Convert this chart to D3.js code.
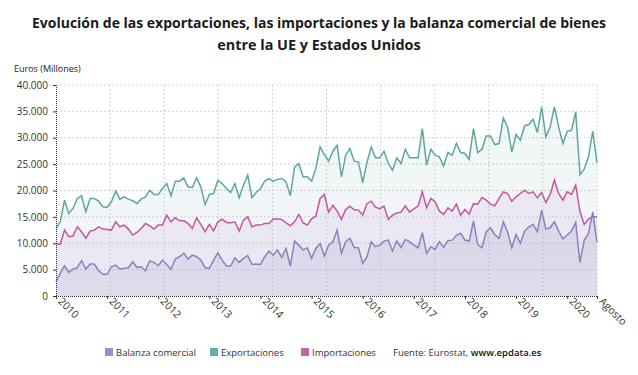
<!DOCTYPE html>
<html><head><meta charset="utf-8">
<script src="https://cdn.jsdelivr.net/npm/d3@7"></script>
<style>
body{margin:0;background:#fff;}
text{font-family:"Open Sans",sans-serif;}
</style></head><body>
<svg id="c" width="638" height="375"></svg>
<script>
const yearLabels = ["2010","2011","2012","2013","2014","2015","2016","2017","2018","2019","2020","Agosto"];
const yearTickMonths = [0,12,24,36,48,60,72,84,96,108,120,127];
const yTicks = [0,5000,10000,15000,20000,25000,30000,35000,40000];

const exportaciones = [12800,14070,18170,15650,16600,18490,19000,15960,18490,18490,17980,16910,
16780,17860,19880,18360,18800,18360,18050,17540,18360,18800,20070,19250,
19250,20380,21330,18990,21770,21770,22400,20700,20570,22400,20700,17350,
19250,19430,21960,21330,20380,19620,21330,18610,21010,22910,18680,19620,
20380,21770,22270,21770,22100,22270,21640,18990,24480,25110,22590,22590,
21770,24170,28270,26820,25560,27450,28580,22590,26690,27950,25560,25430,
21520,25300,28270,26190,26190,27450,25110,23850,26190,25110,27830,26190,
26190,26190,31740,24800,27830,26690,26380,24670,27200,26690,28900,27200,
27010,25930,31740,27200,27830,30350,30350,28710,28900,33760,32050,27320,
30600,29530,32240,32500,33510,30980,35840,30160,32050,35840,32050,28900,
31230,31420,34890,23000,24040,26380,31230,25300];

const importaciones = [9970,9780,12490,11230,11360,13120,12180,10920,12300,12490,13120,12680,
12620,12490,14070,13120,13440,12680,11550,12050,12810,13760,13310,12680,
13440,13440,15330,14070,14830,14260,14260,13760,12810,14830,13570,12180,
13570,12370,14070,14580,13950,13880,14070,12300,14390,15020,13120,13440,
13440,13760,13760,14580,14580,14500,13880,13310,14070,15460,13880,13440,
14640,15150,18490,19250,15910,17170,16090,14510,16410,17040,16350,16280,
15340,17500,17980,16850,16540,17040,14510,15330,15720,15900,17100,15900,
16540,17040,19750,16720,18490,17860,16080,15470,16700,16100,17400,15300,
16400,15520,17500,17400,18680,18170,17410,17100,18500,19750,19430,17980,
18800,19430,20070,19430,19750,18610,19620,17730,19250,21960,19430,18170,
19750,19250,21010,16000,13570,14580,15020,15020];

const balanza = [2710,4290,5740,4480,5110,5360,6690,5110,6060,6060,4800,4100,
4100,5550,5870,5110,5240,5360,6500,5430,5550,4800,6630,6370,
5740,6810,5990,5050,7000,7450,8080,7000,7760,7450,6810,5360,
5240,6810,8200,6810,5680,5680,7260,6370,7130,7640,6000,6060,
5990,7450,8520,7760,8710,7300,9020,5680,10410,9650,8710,9150,
7130,9020,9970,7570,9650,10280,12490,8080,10280,10910,9210,9150,
6180,7450,10290,9340,9650,10410,10600,8520,10470,9210,10730,10290,
9650,9150,11990,8080,9340,8830,10300,9200,10500,10590,11500,11900,
10610,10410,14240,9800,9150,12180,12940,11610,10920,14070,12180,9150,
11670,9970,12300,13120,13570,12180,16280,12680,12940,14070,12300,10790,
11550,12300,13950,6370,10600,11860,15960,10160];

const svg = d3.select("#c");
const X0 = 56, X1 = 597, Y0 = 296, Y1 = 85;
const x = d3.scaleLinear().domain([0, exportaciones.length - 1]).range([X0, X1]);
const y = d3.scaleLinear().domain([0, 40000]).range([Y0, Y1]);

// title
svg.append("text").attr("x",319).attr("y",28).attr("text-anchor","middle")
  .attr("font-size",14.4).attr("font-weight",700).attr("fill","#1a1a1a")
  .attr("textLength",574).attr("lengthAdjust","spacingAndGlyphs")
  .text("Evolución de las exportaciones, las importaciones y la balanza comercial de bienes");
svg.append("text").attr("x",319).attr("y",50).attr("text-anchor","middle")
  .attr("font-size",14.4).attr("font-weight",700).attr("fill","#1a1a1a")
  .text("entre la UE y Estados Unidos");
svg.append("text").attr("x",14).attr("y",72).attr("font-size",9).attr("fill","#222")
  .text("Euros (Millones)");

// gradients
const defs = svg.append("defs");
function grad(id, stops){
  const g = defs.append("linearGradient").attr("id",id).attr("x1",0).attr("y1",0).attr("x2",0).attr("y2",1);
  stops.forEach(s=>g.append("stop").attr("offset",s[0]).attr("stop-color",s[1]).attr("stop-opacity",s[2]));
}
grad("gE",[[0,"#6fb2ad",0.10],[1,"#a9a3cf",0.12]]);
grad("gI",[[0,"#c9a7d3",0.18],[1,"#a79fcc",0.14]]);
grad("gB",[[0,"#9d92c6",0.22],[1,"#9d92c6",0.14]]);

// grid
const grid = svg.append("g");
yTicks.forEach(t=>{
  if(t===0) return;
  grid.append("line").attr("x1",X0).attr("x2",X1).attr("y1",y(t)).attr("y2",y(t))
    .attr("stroke","#c8c8c8").attr("stroke-width",0.8).attr("stroke-dasharray","2,2");
});
d3.range(1,11).forEach(k=>{
  const gx = X0 + (X1-X0)*k/10;
  grid.append("line").attr("x1",gx).attr("x2",gx).attr("y1",Y1).attr("y2",Y0)
    .attr("stroke","#c8c8c8").attr("stroke-width",0.8).attr("stroke-dasharray","2,2");
});

const area = d3.area().x((d,i)=>x(i)).y0(Y0).y1(d=>y(d)).curve(d3.curveLinear);
const line = d3.line().x((d,i)=>x(i)).y(d=>y(d)).curve(d3.curveLinear);

svg.append("path").datum(exportaciones).attr("d",area).attr("fill","url(#gE)");
svg.append("path").datum(importaciones).attr("d",area).attr("fill","url(#gI)");
svg.append("path").datum(balanza).attr("d",area).attr("fill","url(#gB)");

svg.append("path").datum(exportaciones).attr("d",line).attr("fill","none").attr("stroke","#5ea7a1").attr("stroke-width",1.5);
svg.append("path").datum(importaciones).attr("d",line).attr("fill","none").attr("stroke","#c2579f").attr("stroke-width",1.5);
svg.append("path").datum(balanza).attr("d",line).attr("fill","none").attr("stroke","#8f80bd").attr("stroke-width",1.5);

// y axis
const yAxis = d3.axisLeft(y).tickValues(yTicks).tickSize(3).tickPadding(5)
  .tickFormat(d=>d3.format(",")(d).replace(/,/g,"."));
const ya = svg.append("g").attr("transform",`translate(${X0},0)`).call(yAxis);
ya.select(".domain").attr("stroke","#333").attr("stroke-dasharray","1,1");
ya.selectAll(".tick line").attr("stroke","#333");
ya.selectAll("text").attr("font-size",10).attr("fill","#333").style("font-family","Open Sans");

// x axis
const xAxis = d3.axisBottom(x).tickValues(yearTickMonths).tickSize(3).tickFormat((d,i)=>yearLabels[i]);
const xa = svg.append("g").attr("transform",`translate(0,${Y0})`).call(xAxis);
xa.select(".domain").attr("stroke","#333").attr("stroke-dasharray","1,1");
xa.selectAll(".tick line").attr("stroke","#333");
xa.selectAll("text").attr("font-size",10.5).attr("fill","#333").style("font-family","Open Sans")
  .attr("text-anchor","start").attr("dy",0).attr("y",0)
  .attr("transform","translate(1,6) rotate(45)");

// legend
const legend = [["Balanza comercial","#9b8fc7",105],["Exportaciones","#6aabaa",210],["Importaciones","#c466ab",301]];
legend.forEach(l=>{
  svg.append("rect").attr("x",l[2]).attr("y",348).attr("width",8).attr("height",8).attr("fill",l[1]);
  svg.append("text").attr("x",l[2]+11).attr("y",356).attr("font-size",9.5).attr("fill","#333").text(l[0]);
});
const src = svg.append("text").attr("x",393).attr("y",356).attr("font-size",9.5).attr("fill","#333");
src.append("tspan").text("Fuente: Eurostat, ");
src.append("tspan").attr("font-weight",600).attr("fill","#111").text("www.epdata.es");
</script></body></html>
